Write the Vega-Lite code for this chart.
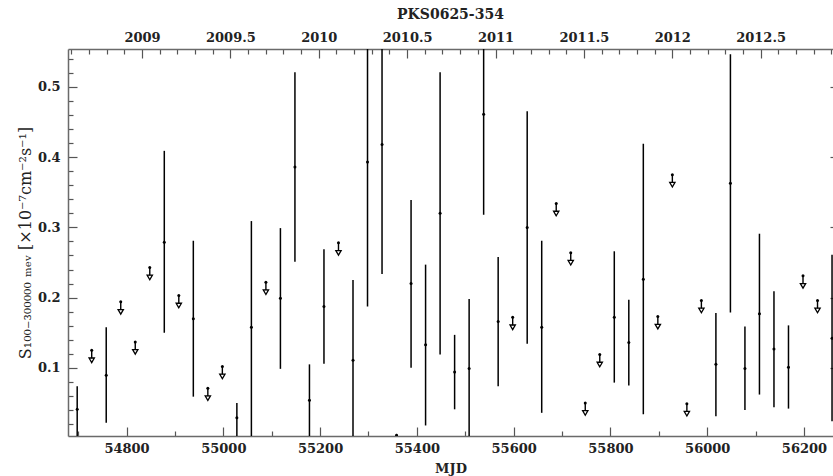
{
  "$schema": "https://vega.github.io/schema/vega-lite/v6.json",
  "width": 765,
  "height": 387,
  "autosize": {"type": "none"},
  "padding": {"left": 68, "top": 49, "right": 0, "bottom": 40},
  "title": {"text": "PKS0625-354", "font": "DejaVu Serif", "fontSize": 14, "fontWeight": "bold", "anchor": "middle", "offset": 5, "color": "#222"},
  "config": {
    "view": {"stroke": null},
    "axis": {
      "grid": false,
      "domainColor": "#6a6a6a",
      "domainWidth": 1.5,
      "tickColor": "#555",
      "tickWidth": 1.2,
      "labelFont": "DejaVu Serif",
      "labelFontSize": 13,
      "labelFontWeight": "bold",
      "labelColor": "#222",
      "labelFlush": false,
      "labelOverlap": false,
      "labelBound": false,
      "titleFont": "DejaVu Serif",
      "titleColor": "#222"
    }
  },
  "datasets": {
    "det": [
      {"mjd": 54698, "flux": 0.041, "lo": 0.0, "hi": 0.074},
      {"mjd": 54758, "flux": 0.0895, "lo": 0.022, "hi": 0.158},
      {"mjd": 54878, "flux": 0.279, "lo": 0.150, "hi": 0.409},
      {"mjd": 54938, "flux": 0.170, "lo": 0.059, "hi": 0.281},
      {"mjd": 55028, "flux": 0.029, "lo": 0.0, "hi": 0.050},
      {"mjd": 55058, "flux": 0.158, "lo": 0.0, "hi": 0.309},
      {"mjd": 55118, "flux": 0.199, "lo": 0.0986, "hi": 0.299},
      {"mjd": 55148, "flux": 0.386, "lo": 0.251, "hi": 0.521},
      {"mjd": 55178, "flux": 0.054, "lo": 0.0, "hi": 0.105},
      {"mjd": 55208, "flux": 0.1875, "lo": 0.106, "hi": 0.269},
      {"mjd": 55268, "flux": 0.111, "lo": 0.0, "hi": 0.225},
      {"mjd": 55298, "flux": 0.393, "lo": 0.1875, "hi": 0.6},
      {"mjd": 55328, "flux": 0.418, "lo": 0.2335, "hi": 0.6},
      {"mjd": 55358, "flux": 0.004, "lo": 0.0, "hi": 0.006},
      {"mjd": 55388, "flux": 0.220, "lo": 0.100, "hi": 0.339},
      {"mjd": 55418, "flux": 0.133, "lo": 0.018, "hi": 0.247},
      {"mjd": 55448, "flux": 0.320, "lo": 0.119, "hi": 0.521},
      {"mjd": 55478, "flux": 0.094, "lo": 0.041, "hi": 0.147},
      {"mjd": 55508, "flux": 0.099, "lo": 0.0, "hi": 0.198},
      {"mjd": 55538, "flux": 0.461, "lo": 0.318, "hi": 0.6},
      {"mjd": 55568, "flux": 0.166, "lo": 0.074, "hi": 0.258},
      {"mjd": 55628, "flux": 0.300, "lo": 0.1345, "hi": 0.4655},
      {"mjd": 55658, "flux": 0.158, "lo": 0.036, "hi": 0.281},
      {"mjd": 55808, "flux": 0.172, "lo": 0.079, "hi": 0.266},
      {"mjd": 55838, "flux": 0.136, "lo": 0.075, "hi": 0.197},
      {"mjd": 55868, "flux": 0.226, "lo": 0.034, "hi": 0.419},
      {"mjd": 56018, "flux": 0.105, "lo": 0.031, "hi": 0.178},
      {"mjd": 56048, "flux": 0.363, "lo": 0.179, "hi": 0.5465},
      {"mjd": 56078, "flux": 0.099, "lo": 0.040, "hi": 0.159},
      {"mjd": 56108, "flux": 0.177, "lo": 0.062, "hi": 0.291},
      {"mjd": 56138, "flux": 0.127, "lo": 0.044, "hi": 0.209},
      {"mjd": 56168, "flux": 0.101, "lo": 0.042, "hi": 0.1605},
      {"mjd": 56258, "flux": 0.142, "lo": 0.024, "hi": 0.261}
    ],
    "ul": [
      {"mjd": 54728, "ul": 0.125},
      {"mjd": 54788, "ul": 0.194},
      {"mjd": 54818, "ul": 0.137},
      {"mjd": 54848, "ul": 0.243},
      {"mjd": 54908, "ul": 0.203},
      {"mjd": 54968, "ul": 0.071},
      {"mjd": 54998, "ul": 0.102},
      {"mjd": 55088, "ul": 0.222},
      {"mjd": 55238, "ul": 0.278},
      {"mjd": 55598, "ul": 0.172},
      {"mjd": 55688, "ul": 0.334},
      {"mjd": 55718, "ul": 0.264},
      {"mjd": 55748, "ul": 0.050},
      {"mjd": 55778, "ul": 0.119},
      {"mjd": 55898, "ul": 0.173},
      {"mjd": 55928, "ul": 0.375},
      {"mjd": 55958, "ul": 0.049},
      {"mjd": 55988, "ul": 0.196},
      {"mjd": 56198, "ul": 0.231},
      {"mjd": 56228, "ul": 0.196}
    ]
  },
  "layer": [
    {
      "data": {"name": "det"},
      "mark": {"type": "rule", "color": "black", "strokeWidth": 1.5, "clip": true},
      "encoding": {
        "x": {"field": "mjd", "type": "quantitative",
          "scale": {"domain": [54679, 56260], "nice": false, "zero": false},
          "axis": {
            "orient": "bottom",
            "values": [54700, 54800, 54900, 55000, 55100, 55200, 55300, 55400, 55500, 55600, 55700, 55800, 55900, 56000, 56100, 56200],
            "format": "d",
            "labelExpr": "datum.value % 200 === 0 ? datum.label : ''",
            "tickSize": {"condition": {"test": "datum.value % 200 === 0", "value": -9}, "value": -5},
            "labelPadding": 15,
            "title": "MJD",
            "titleFontSize": 13,
            "titleFontWeight": "bold",
            "titlePadding": 3
          }
        },
        "y": {"field": "lo", "type": "quantitative",
          "scale": {"domain": [0.003, 0.554], "nice": false, "zero": false},
          "axis": {
            "orient": "left",
            "values": [0.02, 0.04, 0.06, 0.08, 0.1, 0.12, 0.14, 0.16, 0.18, 0.2, 0.22, 0.24, 0.26, 0.28, 0.3, 0.32, 0.34, 0.36, 0.38, 0.4, 0.42, 0.44, 0.46, 0.48, 0.5, 0.52, 0.54],
            "format": ".1f",
            "labelExpr": "abs(datum.value * 10 - round(datum.value * 10)) < 0.000001 ? datum.label : ''",
            "tickSize": {"condition": {"test": "abs(datum.value * 10 - round(datum.value * 10)) < 0.000001", "value": -9}, "value": -5},
            "labelPadding": 17,
            "title": "S₁₀₀₋₃₀₀₀₀₀ ₘₑᵥ [×10⁻⁷cm⁻²s⁻¹]",
            "titleFontSize": 16,
            "titleFontWeight": "normal",
            "titlePadding": 4
          }
        },
        "y2": {"field": "hi"}
      }
    },
    {
      "data": {"name": "det"},
      "mark": {"type": "circle", "color": "black", "size": 9, "opacity": 1, "clip": true},
      "encoding": {
        "x": {"field": "mjd", "type": "quantitative", "scale": {"domain": [54679, 56260], "nice": false, "zero": false}, "axis": null},
        "y": {"field": "flux", "type": "quantitative", "scale": {"domain": [0.003, 0.554], "nice": false, "zero": false}, "axis": null}
      }
    },
    {
      "data": {"name": "ul"},
      "mark": {"type": "rule", "color": "black", "strokeWidth": 1.4, "y2Offset": 8, "clip": true},
      "encoding": {
        "x": {"field": "mjd", "type": "quantitative", "scale": {"domain": [54679, 56260], "nice": false, "zero": false}, "axis": null},
        "y": {"field": "ul", "type": "quantitative", "scale": {"domain": [0.003, 0.554], "nice": false, "zero": false}, "axis": null},
        "y2": {"field": "ul"}
      }
    },
    {
      "data": {"name": "ul"},
      "mark": {"type": "circle", "color": "black", "size": 9, "opacity": 1, "clip": true},
      "encoding": {
        "x": {"field": "mjd", "type": "quantitative", "scale": {"domain": [54679, 56260], "nice": false, "zero": false}, "axis": null},
        "y": {"field": "ul", "type": "quantitative", "scale": {"domain": [0.003, 0.554], "nice": false, "zero": false}, "axis": null}
      }
    },
    {
      "data": {"name": "ul"},
      "mark": {"type": "point", "shape": "triangle-down", "filled": false, "size": 28, "stroke": "black", "strokeWidth": 1.3, "opacity": 1, "yOffset": 10, "clip": true},
      "encoding": {
        "x": {"field": "mjd", "type": "quantitative", "scale": {"domain": [54679, 56260], "nice": false, "zero": false}, "axis": null},
        "y": {"field": "ul", "type": "quantitative", "scale": {"domain": [0.003, 0.554], "nice": false, "zero": false}, "axis": null}
      }
    },
    {
      "data": {"name": "det"},
      "mark": {"type": "point", "opacity": 0},
      "encoding": {
        "x": {"field": "mjd", "type": "quantitative",
          "scale": {"domain": [54679, 56260], "nice": false, "zero": false},
          "axis": {
            "orient": "top",
            "values": [54685.9, 54722.425, 54758.95, 54795.475, 54832, 54868.525, 54905.05, 54941.575, 54978.1, 55014.625, 55051.15, 55087.675, 55124.2, 55160.725, 55197.25, 55233.775, 55270.3, 55306.825, 55343.35, 55379.875, 55416.4, 55452.925, 55489.45, 55525.975, 55562.5, 55599.025, 55635.55, 55672.075, 55708.6, 55745.125, 55781.65, 55818.175, 55854.7, 55891.225, 55927.75, 55964.275, 56000.8, 56037.325, 56073.85, 56110.375, 56146.9, 56183.425, 56219.95, 56256.475],
            "labelExpr": "round((2009 + (datum.value - 54832) / 365.25) * 10) % 5 === 0 ? '' + round((2009 + (datum.value - 54832) / 365.25) * 10) / 10 : ''",
            "tickSize": {"condition": {"test": "round((2009 + (datum.value - 54832) / 365.25) * 10) % 5 === 0", "value": -9}, "value": -5},
            "labelPadding": 14,
            "title": null
          }
        },
        "y": {"field": "flux", "type": "quantitative",
          "scale": {"domain": [0.003, 0.554], "nice": false, "zero": false},
          "axis": {
            "orient": "right",
            "values": [0.1, 0.2, 0.3, 0.4, 0.5],
            "labels": false,
            "domain": false,
            "tickSize": -3,
            "title": null
          }
        }
      }
    }
  ],
  "resolve": {"axis": {"x": "independent", "y": "independent"}}
}
